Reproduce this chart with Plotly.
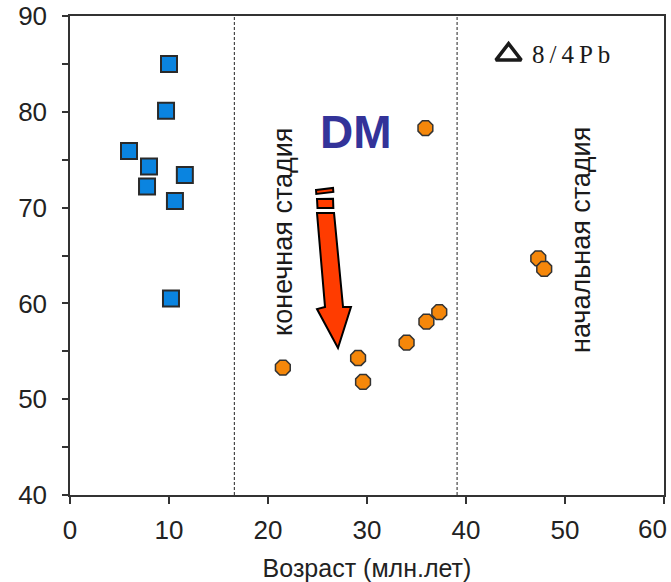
import plotly.graph_objects as go

# Data
blue_x = [10.0, 9.7, 5.96, 7.98, 11.6, 7.78, 10.6, 10.2]
blue_y = [85.0, 80.1, 75.9, 74.3, 73.4, 72.2, 70.7, 60.5]

orange_x = [21.5, 29.1, 29.6, 34.0, 35.9, 36.0, 37.3, 47.3, 47.9]
orange_y = [53.3, 54.3, 51.8, 55.9, 78.3, 58.1, 59.1, 64.7, 63.6]

boundaries = [16.6, 39.1]
x_ticks = [0, 10, 20, 30, 40, 50, 60]
x_ticktext = ["0", "10", "20", "30", "40", "50", ""]
last_x_label = "60"
y_ticks = [40, 50, 60, 70, 80, 90]

FONT = "Liberation Sans, Arial, sans-serif"

fig = go.Figure()

fig.add_trace(go.Scatter(
    x=blue_x, y=blue_y, mode="markers",
    marker=dict(symbol="square", size=16, color="#0a84e0",
                line=dict(color="#2a2a2a", width=2)),
    showlegend=False, hoverinfo="skip"))

fig.add_trace(go.Scatter(
    x=orange_x, y=orange_y, mode="markers",
    marker=dict(symbol="octagon", size=16, color="#f5870a",
                line=dict(color="#333333", width=1.5)),
    showlegend=False, hoverinfo="skip"))

# legend-like triangle
fig.add_trace(go.Scatter(
    x=[44.3], y=[85.97], mode="markers",
    marker=dict(symbol="triangle-up-open", size=22, color="#1a1a1a",
                line=dict(color="#1a1a1a", width=3.5)),
    showlegend=False, hoverinfo="skip"))

# dashed boundaries
for b in boundaries:
    fig.add_shape(type="line", x0=b, x1=b, y0=40, y1=90, xref="x", yref="y",
                  line=dict(color="#222222", width=1, dash="3px,2px"))

# arrow
fig.add_shape(type="path", xref="x", yref="y",
              path="M 24.95,69.44 L 26.67,69.44 L 27.58,59.62 L 28.38,59.62 L 27.07,55.34 L 24.95,59.41 L 25.76,59.62 Z",
              fillcolor="#ff3c00", line=dict(color="#000000", width=2))
fig.add_shape(type="path", xref="x", yref="y",
              path="M 24.95,70.9 L 26.57,70.93 L 26.6,69.96 L 25.0,69.96 Z",
              fillcolor="#ff3c00", line=dict(color="#000000", width=2))
fig.add_shape(type="path", xref="x", yref="y",
              path="M 24.85,71.84 L 26.57,72.05 L 26.6,71.63 L 24.88,71.42 Z",
              fillcolor="#ff3c00", line=dict(color="#000000", width=2))

fig.add_annotation(x=28.9, y=77.9, text="<b>DM</b>", showarrow=False,
                   font=dict(family=FONT, size=46, color="#333399"))
fig.add_annotation(x=21.5, y=67.45, text="конечная стадия", textangle=-90,
                   showarrow=False, font=dict(family=FONT, size=27, color="#1a1a1a"))
fig.add_annotation(x=51.6, y=66.6, text="начальная стадия", textangle=-90,
                   showarrow=False, font=dict(family=FONT, size=27, color="#1a1a1a"))
fig.add_annotation(x=50.6, y=86.0, text="8\u2009/\u20094\u2009P\u2009b", showarrow=False,
                   font=dict(family="Liberation Serif, serif", size=25, color="#1a1a1a"))

# last x tick label, kept inside the page like the original
fig.add_annotation(x=1.0, xref="paper", xanchor="right", xshift=5,
                   y=0, yref="paper", yanchor="top", yshift=-17,
                   text=last_x_label, showarrow=False,
                   font=dict(family=FONT, size=26, color="#222"))

fig.update_xaxes(range=[0, 60], tickvals=x_ticks, ticktext=x_ticktext,
                 ticks="outside", ticklen=7,
                 tickwidth=1.5, tickcolor="#333", showline=True, linecolor="#333",
                 linewidth=1.5, mirror=True, showgrid=False, zeroline=False, automargin=False,
                 ticklabeloverflow="allow", ticklabelstandoff=4,
                 tickfont=dict(family=FONT, size=26, color="#222"),
                 title=dict(text="Возраст (млн.лет)", font=dict(family=FONT, size=25, color="#222"),
                            standoff=18))
fig.update_yaxes(range=[40, 90], tickvals=y_ticks, ticks="outside", ticklen=6,
                 tickwidth=1.5, tickcolor="#333", showline=True, linecolor="#333",
                 linewidth=1.5, mirror=True, showgrid=False, zeroline=False, automargin=False,
                 ticklabeloverflow="allow", ticklabelstandoff=10,
                 minor=dict(ticks="outside", ticklen=6, tickwidth=1.5, tickcolor="#333",
                            dtick=5, showgrid=False),
                 tickfont=dict(family=FONT, size=26, color="#222"))

fig.update_layout(width=671, height=582, margin=dict(l=70, r=7, t=16, b=87),
                  plot_bgcolor="white", paper_bgcolor="white")

fig.write_html("out.html")
